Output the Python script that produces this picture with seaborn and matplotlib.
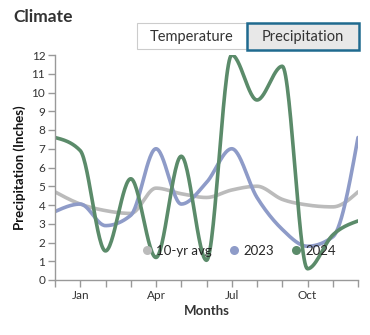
import numpy as np
import pandas as pd
import matplotlib
matplotlib.use("Agg")
import matplotlib.pyplot as plt
from matplotlib.patches import Rectangle
from matplotlib.lines import Line2D
import seaborn as sns

# ---- data (13 monthly points, index 0 = Dec of prior year) ----
month_idx = list(range(13))
tick_labels = ["", "Jan", "", "", "Apr", "", "", "Jul", "", "", "Oct", "", ""]
avg10 = [4.7, 4.05, 3.7, 3.55, 4.9, 4.6, 4.4, 4.8, 5.0, 4.3, 4.0, 3.9, 4.7]
y2023 = [3.65, 4.05, 2.9, 3.45, 7.0, 4.05, 5.2, 7.0, 4.4, 2.7, 1.8, 2.3, 7.6]
y2024 = [7.6, 6.9, 1.55, 5.4, 1.2, 6.6, 1.05, 12.0, 9.6, 11.4, 0.6, 2.4, 3.15]
series_names = ["10-yr avg", "2023", "2024"]
colors = ["#bbbbbb", "#8e9bc8", "#5b8b6a"]

def monotone_x(xs, ys, n=30):
    """d3 curveMonotoneX rendering of a series (Hermite cubic)."""
    x = np.asarray(xs, float); y = np.asarray(ys, float)
    h = np.diff(x); s = np.diff(y) / h
    t = np.zeros_like(y)
    for i in range(1, len(y) - 1):
        s0, s1 = s[i - 1], s[i]
        p = (s0 * h[i] + s1 * h[i - 1]) / (h[i - 1] + h[i])
        t[i] = (np.sign(s0) + np.sign(s1)) * min(abs(s0), abs(s1), 0.5 * abs(p))
    t[0] = (3 * s[0] - t[1]) / 2
    t[-1] = (3 * s[-1] - t[-2]) / 2
    px, py = [], []
    for i in range(len(y) - 1):
        u = np.linspace(0, 1, n, endpoint=(i == len(y) - 2))
        h00 = 2*u**3 - 3*u**2 + 1; h10 = u**3 - 2*u**2 + u
        h01 = -2*u**3 + 3*u**2; h11 = u**3 - u**2
        px.append(x[i] + u * h[i])
        py.append(h00*y[i] + h10*h[i]*t[i] + h01*y[i+1] + h11*h[i]*t[i+1])
    return np.concatenate(px), np.concatenate(py)

frames = []
for name, vals in zip(series_names, [avg10, y2023, y2024]):
    cx, cy = monotone_x(month_idx, vals)
    frames.append(pd.DataFrame({"x": cx, "y": cy, "series": name}))
df = pd.concat(frames, ignore_index=True)

sns.set_theme(style="white")
plt.rcParams["font.family"] = ["Lato", "DejaVu Sans"]

W, H = 370, 335
fig = plt.figure(figsize=(W / 100, H / 100), dpi=100)
ax = fig.add_axes([55 / W, (H - 280) / H, 303 / W, 225 / H])

sns.lineplot(data=df, x="x", y="y", hue="series", palette=dict(zip(series_names, colors)),
             sort=False, estimator=None, linewidth=2.6, legend=False, ax=ax)

ax.set_xlim(0, 12)
ax.set_ylim(0, 12)
ax.set_xticks(month_idx)
ax.set_xticklabels(tick_labels)
ax.set_yticks(range(13))
ax.tick_params(axis="both", colors="#999999", labelcolor="#333333", labelsize=8.5,
               length=5, width=1, direction="out", pad=2, left=True, bottom=True)
for side in ["top", "right"]:
    ax.spines[side].set_visible(False)
for side in ["left", "bottom"]:
    ax.spines[side].set_color("#999999")
    ax.spines[side].set_linewidth(1)
ax.set_xlabel("Months", fontsize=9.5, fontweight="bold", color="#333333", labelpad=3)
ax.set_ylabel("Precipitation (Inches)", fontsize=9.5, fontweight="bold", color="#111111", labelpad=4)

handles = [Line2D([], [], marker="o", linestyle="", markersize=6.5, color=c,
                  markeredgewidth=0) for c in colors]
ax.legend(handles, series_names, loc="center", bbox_to_anchor=((238 - 55) / 303, (280 - 251) / 225),
          ncol=3, frameon=False, fontsize=9.5, handletextpad=0.2, columnspacing=1.2,
          handlelength=1.0, borderpad=0)

# title and toggle buttons
fig.text(13 / W, 1 - 17 / H, "Climate", fontsize=12.5, fontweight="bold", color="#333333",
         va="center", ha="left")
fig.add_artist(Rectangle((137 / W, 1 - 49 / H), 110 / W, 26 / H, transform=fig.transFigure,
                         facecolor="white", edgecolor="#cccccc", linewidth=0.8))
fig.add_artist(Rectangle((247 / W, 1 - 50 / H), 112 / W, 27 / H, transform=fig.transFigure,
                         facecolor="#e8e8e8", edgecolor="#1f6a8f", linewidth=1.8))
fig.text(192 / W, 1 - 36.5 / H, "Temperature", fontsize=10.5, color="#333333", ha="center", va="center")
fig.text(303 / W, 1 - 36.5 / H, "Precipitation", fontsize=10.5, color="#333333", ha="center", va="center")

fig.savefig("out.png", dpi=100)
